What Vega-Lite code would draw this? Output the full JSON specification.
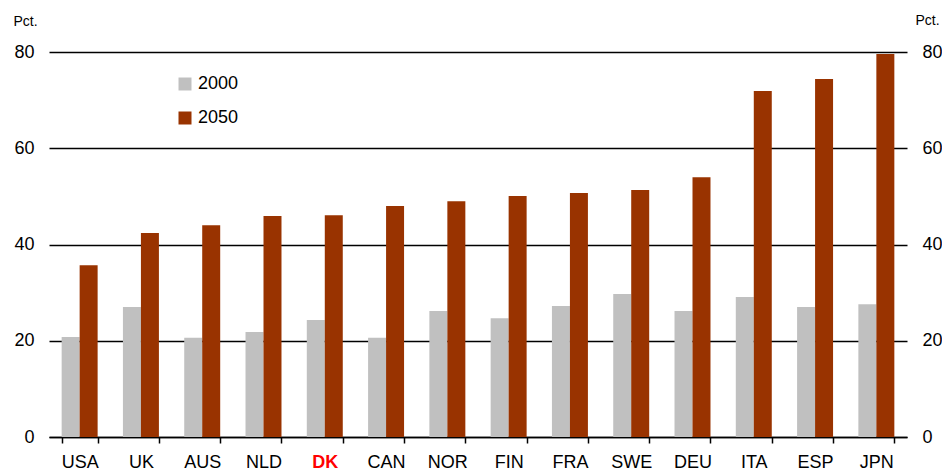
{
  "$schema": "https://vega.github.io/schema/vega-lite/v6.json",
  "width": 858,
  "height": 385,
  "autosize": {"type": "none"},
  "padding": {"left": 49, "top": 52, "right": 35, "bottom": 37},
  "background": "white",
  "config": {
    "view": {"stroke": null},
    "font": "Liberation Sans",
    "axis": {"labelFont": "Liberation Sans", "titleFont": "Liberation Sans", "labelColor": "black", "titleColor": "black"}
  },
  "data": {
    "values": [
      {"country": "USA", "year": "2000", "value": 20.8},
      {"country": "USA", "year": "2050", "value": 35.7},
      {"country": "UK", "year": "2000", "value": 27.0},
      {"country": "UK", "year": "2050", "value": 42.4},
      {"country": "AUS", "year": "2000", "value": 20.6},
      {"country": "AUS", "year": "2050", "value": 44.0},
      {"country": "NLD", "year": "2000", "value": 21.8},
      {"country": "NLD", "year": "2050", "value": 45.9},
      {"country": "DK", "year": "2000", "value": 24.3},
      {"country": "DK", "year": "2050", "value": 46.1},
      {"country": "CAN", "year": "2000", "value": 20.6},
      {"country": "CAN", "year": "2050", "value": 48.0},
      {"country": "NOR", "year": "2000", "value": 26.2},
      {"country": "NOR", "year": "2050", "value": 49.0},
      {"country": "FIN", "year": "2000", "value": 24.7},
      {"country": "FIN", "year": "2050", "value": 50.1},
      {"country": "FRA", "year": "2000", "value": 27.2},
      {"country": "FRA", "year": "2050", "value": 50.7},
      {"country": "SWE", "year": "2000", "value": 29.7},
      {"country": "SWE", "year": "2050", "value": 51.3},
      {"country": "DEU", "year": "2000", "value": 26.2},
      {"country": "DEU", "year": "2050", "value": 54.0},
      {"country": "ITA", "year": "2000", "value": 29.1},
      {"country": "ITA", "year": "2050", "value": 71.9},
      {"country": "ESP", "year": "2000", "value": 27.0},
      {"country": "ESP", "year": "2050", "value": 74.4},
      {"country": "JPN", "year": "2000", "value": 27.6},
      {"country": "JPN", "year": "2050", "value": 79.6}
    ]
  },
  "encoding": {
    "x": {
      "field": "country",
      "type": "nominal",
      "sort": null,
      "scale": {"paddingInner": 0.413, "paddingOuter": 0.2065},
      "axis": {
        "title": null,
        "labelAngle": 0,
        "labelFontSize": 18,
        "labelPadding": 10,
        "tickBand": "extent",
        "tickSize": 6,
        "tickColor": "black",
        "tickWidth": 1.5,
        "domainColor": "black",
        "domainWidth": 1.5,
        "labelColor": {"condition": {"test": "datum.value == 'DK'", "value": "#ff0000"}, "value": "black"},
        "labelFontWeight": {"condition": {"test": "datum.value == 'DK'", "value": "bold"}, "value": "normal"}
      }
    },
    "xOffset": {"field": "year", "type": "nominal", "scale": {"paddingInner": 0, "paddingOuter": 0}},
    "y": {
      "field": "value",
      "type": "quantitative",
      "stack": null,
      "scale": {"domain": [0, 80], "nice": false}
    }
  },
  "layer": [
    {
      "mark": {"type": "bar"},
      "encoding": {
        "y": {
          "field": "value",
          "type": "quantitative",
          "stack": null,
          "scale": {"domain": [0, 80], "nice": false},
          "axis": {
            "orient": "left",
            "values": [0, 20, 40, 60, 80],
            "grid": true,
            "gridColor": "black",
            "gridWidth": 1.5,
            "domain": false,
            "ticks": false,
            "labelPadding": 15,
            "labelFontSize": 18,
            "title": "Pct.",
            "titleAngle": 0,
            "titleFontSize": 14,
            "titleFontWeight": "normal",
            "titleAlign": "left",
            "titleBaseline": "alphabetic",
            "titleX": -36,
            "titleY": -27
          }
        },
        "color": {
          "field": "year",
          "type": "nominal",
          "scale": {"domain": ["2000", "2050"], "range": ["#c0c0c0", "#993300"]},
          "legend": {
            "title": null,
            "orient": "none",
            "legendX": 127,
            "legendY": 23,
            "symbolType": "square",
            "symbolSize": 169,
            "symbolStrokeWidth": 0,
            "symbolOpacity": 1,
            "labelFontSize": 18,
            "labelFont": "Liberation Sans",
            "labelColor": "black",
            "labelOffset": 4,
            "rowPadding": 16
          }
        }
      }
    },
    {
      "mark": {"type": "bar", "opacity": 0},
      "encoding": {
        "y": {
          "field": "value",
          "type": "quantitative",
          "stack": null,
          "scale": {"domain": [0, 80], "nice": false},
          "axis": {
            "orient": "right",
            "values": [0, 20, 40, 60, 80],
            "grid": false,
            "domain": false,
            "ticks": false,
            "labelPadding": 15,
            "labelFontSize": 18,
            "title": "Pct.",
            "titleAngle": 0,
            "titleFontSize": 14,
            "titleFontWeight": "normal",
            "titleAlign": "left",
            "titleBaseline": "alphabetic",
            "titleX": 8,
            "titleY": -28
          }
        }
      }
    }
  ],
  "resolve": {"axis": {"y": "independent"}}
}
